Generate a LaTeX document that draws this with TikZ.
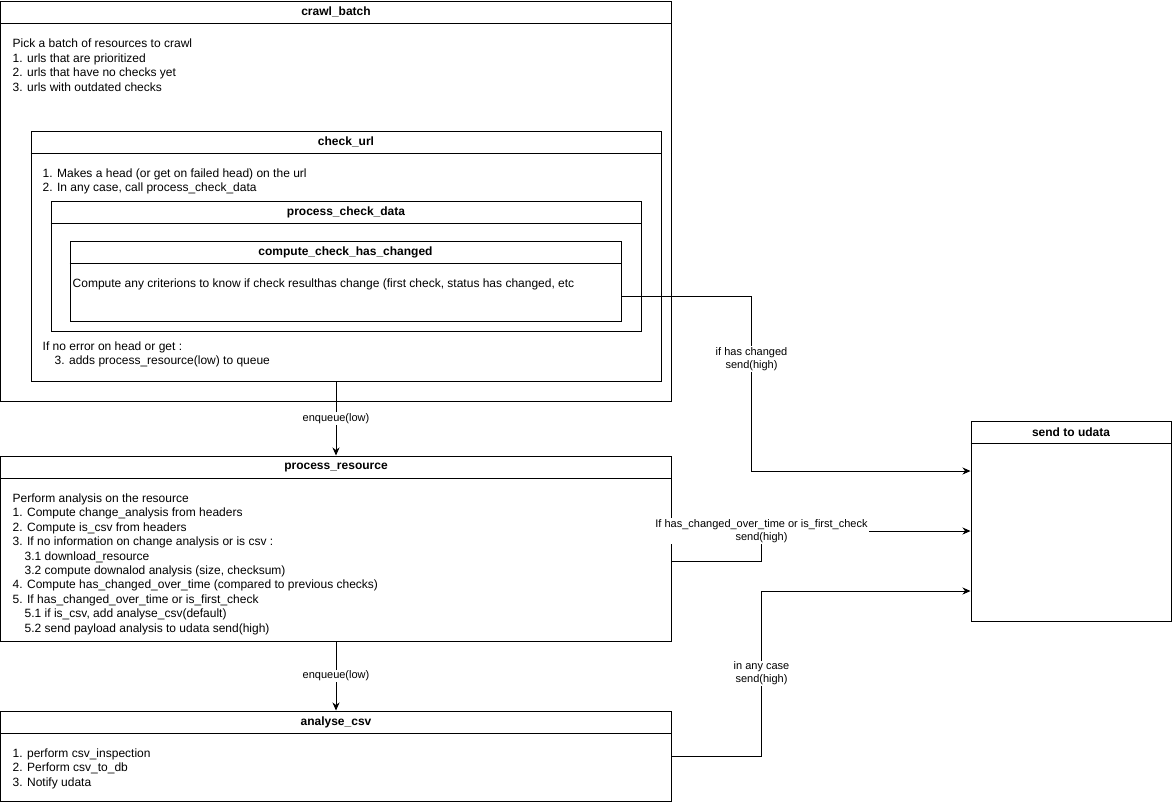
\documentclass[tikz,border=0pt]{standalone}
\usepackage{fontspec}
\setmainfont{Liberation Sans}
\usetikzlibrary{arrows.meta,positioning,calc}
\tikzset{
  lane box/.style={draw=black,line width=1pt,fill=white,inner sep=0pt,anchor=north west},
  lane title/.style={font=\bfseries\fontsize{12}{14.4}\selectfont,inner sep=0pt},
  lane text/.style={font=\fontsize{12}{14.4}\selectfont,align=left,anchor=north west,inner sep=0pt},
  flow arrow/.style={-{Stealth[length=8pt,width=7pt,inset=2.5pt]},line width=1pt,draw=black},
  edge label/.style={font=\fontsize{11}{13.2}\selectfont,align=center,fill=white,inner sep=1pt}
}
% name, left, top, width, height, title
\newcommand{\swimlane}[6]{%
  \node[lane box,minimum width=#4pt,minimum height=#5pt] (#1) at (#2,#3) {};
  \draw[line width=1pt] ([yshift=-23pt]#1.north west) -- ([yshift=-23pt]#1.north east);
  \node[lane title] (#1-title) at ([yshift=-11.5pt]#1.north) {#6};
}

\begin{document}
\begin{tikzpicture}[x=1pt,y=-1pt]
\useasboundingbox (-0.5,-0.5) rectangle (1171.5,800.5);

% crawl and its nested steps
\swimlane{crawl}{0}{0}{670}{400}{crawl\_batch}
\node[lane text] (crawl-body) at (12,38.5) {Pick a batch of resources to crawl\\1. urls that are prioritized\\2. urls that have no checks yet\\3. urls with outdated checks};
\swimlane{check}{30}{130}{630}{250}{check\_url}
\node[lane text] (check-body) at (42,168) {1. Makes a head (or get on failed head) on the url\\2. In any case, call process\_check\_data};
\node[lane text] (check-after) at (42,341) {If no error on head or get :\\\hspace*{12pt}3. adds process\_resource(low) to queue};
\swimlane{pcd}{50}{200}{590}{130}{process\_check\_data}
\swimlane{cchc}{69}{240}{551}{80}{compute\_check\_has\_changed}
\node[lane text] (cchc-body) at (72,278.5) {Compute any criterions to know if check resulthas change (first check, status has changed, etc};

% resource analysis
\swimlane{res}{0}{455}{670}{185}{process\_resource}
\node[lane text] (res-body) at (12,493) {Perform analysis on the resource\\
1. Compute change\_analysis from headers\\
2. Compute is\_csv from headers\\
3. If no information on change analysis or is csv :\\
\hspace*{12pt}3.1 download\_resource\\
\hspace*{12pt}3.2 compute downalod analysis (size, checksum)\\
4. Compute has\_changed\_over\_time (compared to previous checks)\\
5. If has\_changed\_over\_time or is\_first\_check\\
\hspace*{12pt}5.1 if is\_csv, add analyse\_csv(default)\\
\hspace*{12pt}5.2 send payload analysis to udata send(high)};

\swimlane{csv}{0}{710}{670}{90}{analyse\_csv}
\node[lane text] (csv-body) at (12,748) {1. perform csv\_inspection\\2. Perform csv\_to\_db\\3. Notify udata};

\swimlane{udata}{970}{420}{200}{200}{send to udata}

% queue hand-offs
\draw[flow arrow] (res.north |- check.south) -- node[edge label] {enqueue(low)} (res.north);
\draw[flow arrow] (res.south) -- node[edge label] {enqueue(low)} (csv.north);

% notifications to udata
\draw[flow arrow] ([yshift=-15pt]cchc.east) -- ++(130,0) |- node[edge label,pos=0.18] {if has changed\\send(high)} ([yshift=50pt]udata.west);
\draw[flow arrow] ([yshift=-12.5pt]res.east) -- ++(90,0) |- node[edge label,pos=0.5] {If has\_changed\_over\_time or is\_first\_check\\send(high)} ([yshift=-10pt]udata.west);
\draw[flow arrow] (csv.east) -- ++(90,0) |- node[edge label,pos=0.25] {in any case\\send(high)} ([yshift=-70pt]udata.west);
\end{tikzpicture}
\end{document}
